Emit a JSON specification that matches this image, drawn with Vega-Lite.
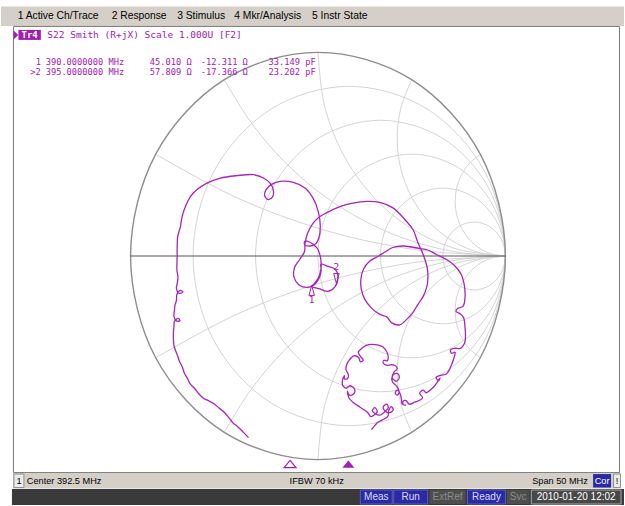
{
"$schema":"https://vega.github.io/schema/vega-lite/v6.json",
"width":625,"height":506,
"autosize":{"type":"fit","contains":"padding"},
"padding":0,
"background":"#ffffff",
"config":{"view":{"stroke":null}},
"datasets":{
"boxes":[
{"x":-1.69149,"x2":1.63298,"y":1.22549,"y2":1.12990,"k":"menubar"},
{"x":-1.625,"x2":1.60904,"y":1.12745,"y2":-1.06373,"k":"frame"},
{"x":-1.62766,"x2":1.61702,"y":-1.06618,"y2":-1.14216,"k":"status"},
{"x":-1.62234,"x2":-1.56915,"y":-1.07108,"y2":-1.13725,"k":"onebox"},
{"x":1.46809,"x2":1.56383,"y":-1.07108,"y2":-1.13725,"k":"cor"},
{"x":1.57713,"x2":1.61436,"y":-1.07108,"y2":-1.13725,"k":"excl"},
{"x":-1.63298,"x2":1.63298,"y":-1.14461,"y2":-1.22304,"k":"dark"},
{"x":0.22606,"x2":0.39628,"y":-1.14951,"y2":-1.21814,"k":"on"},
{"x":0.40426,"x2":0.58511,"y":-1.14951,"y2":-1.21814,"k":"on"},
{"x":0.59574,"x2":0.78723,"y":-1.14951,"y2":-1.21814,"k":"off"},
{"x":0.79787,"x2":1.0,"y":-1.14951,"y2":-1.21814,"k":"on"},
{"x":1.00798,"x2":1.12766,"y":-1.14951,"y2":-1.21814,"k":"off"},
{"x":1.13830,"x2":1.61702,"y":-1.14951,"y2":-1.21814,"k":"date"},
{"x":-1.59840,"x2":-1.47872,"y":1.11029,"y2":1.06127,"k":"tr4"}
],
"rc":[
{"id":"r02","x":1,"y":0},{"id":"r02","x":0.88835,"y":0.41667},{"id":"r02","x":0.58333,"y":0.72169},{"id":"r02","x":0.16667,"y":0.83333},{"id":"r02","x":-0.25,"y":0.72169},{"id":"r02","x":-0.55502,"y":0.41667},{"id":"r02","x":-0.66667,"y":0},{"id":"r02","x":-0.55502,"y":-0.41667},{"id":"r02","x":-0.25,"y":-0.72169},{"id":"r02","x":0.16667,"y":-0.83333},{"id":"r02","x":0.58333,"y":-0.72169},{"id":"r02","x":0.88835,"y":-0.41667},
{"id":"r05","x":1,"y":0},{"id":"r05","x":0.91068,"y":0.33333},{"id":"r05","x":0.66667,"y":0.57735},{"id":"r05","x":0.33333,"y":0.66667},{"id":"r05","x":0,"y":0.57735},{"id":"r05","x":-0.24402,"y":0.33333},{"id":"r05","x":-0.33333,"y":0},{"id":"r05","x":-0.24402,"y":-0.33333},{"id":"r05","x":0,"y":-0.57735},{"id":"r05","x":0.33333,"y":-0.66667},{"id":"r05","x":0.66667,"y":-0.57735},{"id":"r05","x":0.91068,"y":-0.33333},
{"id":"r1","x":1,"y":0},{"id":"r1","x":0.93301,"y":0.25},{"id":"r1","x":0.75,"y":0.43301},{"id":"r1","x":0.5,"y":0.5},{"id":"r1","x":0.25,"y":0.43301},{"id":"r1","x":0.06699,"y":0.25},{"id":"r1","x":0,"y":0},{"id":"r1","x":0.06699,"y":-0.25},{"id":"r1","x":0.25,"y":-0.43301},{"id":"r1","x":0.5,"y":-0.5},{"id":"r1","x":0.75,"y":-0.43301},{"id":"r1","x":0.93301,"y":-0.25},
{"id":"r2","x":1,"y":0},{"id":"r2","x":0.95534,"y":0.16667},{"id":"r2","x":0.83333,"y":0.28868},{"id":"r2","x":0.66667,"y":0.33333},{"id":"r2","x":0.5,"y":0.28868},{"id":"r2","x":0.37799,"y":0.16667},{"id":"r2","x":0.33333,"y":0},{"id":"r2","x":0.37799,"y":-0.16667},{"id":"r2","x":0.5,"y":-0.28868},{"id":"r2","x":0.66667,"y":-0.33333},{"id":"r2","x":0.83333,"y":-0.28868},{"id":"r2","x":0.95534,"y":-0.16667},
{"id":"r5","x":1,"y":0},{"id":"r5","x":0.97767,"y":0.08333},{"id":"r5","x":0.91667,"y":0.14434},{"id":"r5","x":0.83333,"y":0.16667},{"id":"r5","x":0.75,"y":0.14434},{"id":"r5","x":0.689,"y":0.08333},{"id":"r5","x":0.66667,"y":0},{"id":"r5","x":0.689,"y":-0.08333},{"id":"r5","x":0.75,"y":-0.14434},{"id":"r5","x":0.83333,"y":-0.16667},{"id":"r5","x":0.91667,"y":-0.14434},{"id":"r5","x":0.97767,"y":-0.08333}
],
"arcs":[
{"id":"pa","x":1,"y":0},{"id":"pa","x":0.93065,"y":0.00913},{"id":"pa","x":0.86603,"y":0.0359},{"id":"pa","x":0.81053,"y":0.07848},{"id":"pa","x":0.76795,"y":0.13397},{"id":"pa","x":0.74118,"y":0.1986},{"id":"pa","x":0.73205,"y":0.26795},{"id":"pa","x":0.74118,"y":0.3373},{"id":"pa","x":0.76795,"y":0.40192},{"id":"pa","x":0.81053,"y":0.45742},{"id":"pa","x":0.86603,"y":0.5},
{"id":"na","x":1,"y":0},{"id":"na","x":0.93065,"y":-0.00913},{"id":"na","x":0.86603,"y":-0.0359},{"id":"na","x":0.81053,"y":-0.07848},{"id":"na","x":0.76795,"y":-0.13397},{"id":"na","x":0.74118,"y":-0.1986},{"id":"na","x":0.73205,"y":-0.26795},{"id":"na","x":0.74118,"y":-0.3373},{"id":"na","x":0.76795,"y":-0.40192},{"id":"na","x":0.81053,"y":-0.45742},{"id":"na","x":0.86603,"y":-0.5},
{"id":"pb","x":1,"y":0},{"id":"pb","x":0.85057,"y":0.01967},{"id":"pb","x":0.71132,"y":0.07735},{"id":"pb","x":0.59175,"y":0.1691},{"id":"pb","x":0.5,"y":0.28868},{"id":"pb","x":0.44232,"y":0.42792},{"id":"pb","x":0.42265,"y":0.57735},{"id":"pb","x":0.44232,"y":0.72678},{"id":"pb","x":0.5,"y":0.86603},
{"id":"nb","x":1,"y":0},{"id":"nb","x":0.85057,"y":-0.01967},{"id":"nb","x":0.71132,"y":-0.07735},{"id":"nb","x":0.59175,"y":-0.1691},{"id":"nb","x":0.5,"y":-0.28868},{"id":"nb","x":0.44232,"y":-0.42792},{"id":"nb","x":0.42265,"y":-0.57735},{"id":"nb","x":0.44232,"y":-0.72678},{"id":"nb","x":0.5,"y":-0.86603},
{"id":"pc","x":1,"y":0},{"id":"pc","x":0.74118,"y":0.03407},{"id":"pc","x":0.5,"y":0.13397},{"id":"pc","x":0.29289,"y":0.29289},{"id":"pc","x":0.13397,"y":0.5},{"id":"pc","x":0.03407,"y":0.74118},{"id":"pc","x":0,"y":1},
{"id":"nc","x":1,"y":0},{"id":"nc","x":0.74118,"y":-0.03407},{"id":"nc","x":0.5,"y":-0.13397},{"id":"nc","x":0.29289,"y":-0.29289},{"id":"nc","x":0.13397,"y":-0.5},{"id":"nc","x":0.03407,"y":-0.74118},{"id":"nc","x":0,"y":-1},
{"id":"pd","x":1,"y":0},{"id":"pd","x":0.77392,"y":0.01482},{"id":"pd","x":0.55171,"y":0.05901},{"id":"pd","x":0.33717,"y":0.13184},{"id":"pd","x":0.13397,"y":0.23205},{"id":"pd","x":-0.05441,"y":0.35792},{"id":"pd","x":-0.22474,"y":0.50731},{"id":"pd","x":-0.37412,"y":0.67765},{"id":"pd","x":-0.5,"y":0.86603},
{"id":"nd","x":1,"y":0},{"id":"nd","x":0.77392,"y":-0.01482},{"id":"nd","x":0.55171,"y":-0.05901},{"id":"nd","x":0.33717,"y":-0.13184},{"id":"nd","x":0.13397,"y":-0.23205},{"id":"nd","x":-0.05441,"y":-0.35792},{"id":"nd","x":-0.22474,"y":-0.50731},{"id":"nd","x":-0.37412,"y":-0.67765},{"id":"nd","x":-0.5,"y":-0.86603},
{"id":"pe","x":1,"y":0},{"id":"pe","x":0.51287,"y":0.03193},{"id":"pe","x":0.03407,"y":0.12717},{"id":"pe","x":-0.42819,"y":0.28408},{"id":"pe","x":-0.86603,"y":0.5},
{"id":"ne","x":1,"y":0},{"id":"ne","x":0.51287,"y":-0.03193},{"id":"ne","x":0.03407,"y":-0.12717},{"id":"ne","x":-0.42819,"y":-0.28408},{"id":"ne","x":-0.86603,"y":-0.5}
],
"outer":[
{"x":1,"y":0},{"x":0.86603,"y":0.5},{"x":0.5,"y":0.86603},{"x":0,"y":1},{"x":-0.5,"y":0.86603},{"x":-0.86603,"y":0.5},{"x":-1,"y":0},{"x":-0.86603,"y":-0.5},{"x":-0.5,"y":-0.86603},{"x":0,"y":-1},{"x":0.5,"y":-0.86603},{"x":0.86603,"y":-0.5}
],
"axisline":[{"x":-1,"y":0},{"x":1,"y":0}],
"trace":[
{"x":-0.3707,"y":-0.8922},{"x":-0.3989,"y":-0.8652},{"x":-0.4309,"y":-0.8358},{"x":-0.4521,"y":-0.8211},{"x":-0.4734,"y":-0.7966},{"x":-0.5,"y":-0.7672},{"x":-0.5266,"y":-0.7475},{"x":-0.5585,"y":-0.723},{"x":-0.5904,"y":-0.7083},{"x":-0.6117,"y":-0.6985},
{"x":-0.6383,"y":-0.674},{"x":-0.6596,"y":-0.6495},{"x":-0.6809,"y":-0.6299},{"x":-0.6968,"y":-0.6005},{"x":-0.7128,"y":-0.576},{"x":-0.7234,"y":-0.5466},{"x":-0.7394,"y":-0.5172},{"x":-0.75,"y":-0.4877},{"x":-0.7606,"y":-0.4632},{"x":-0.7686,"y":-0.4387},
{"x":-0.7713,"y":-0.4093},{"x":-0.7713,"y":-0.375},{"x":-0.7686,"y":-0.3456},{"x":-0.766,"y":-0.3211},{"x":-0.7447,"y":-0.3064},{"x":-0.7367,"y":-0.3186},{"x":-0.7553,"y":-0.3186},{"x":-0.7686,"y":-0.2966},{"x":-0.766,"y":-0.2672},{"x":-0.7633,"y":-0.2426},
{"x":-0.7553,"y":-0.2181},{"x":-0.7527,"y":-0.1887},{"x":-0.734,"y":-0.1691},{"x":-0.7207,"y":-0.1765},{"x":-0.7394,"y":-0.1838},{"x":-0.7553,"y":-0.1593},{"x":-0.75,"y":-0.1299},{"x":-0.7473,"y":-0.1005},{"x":-0.7527,"y":-0.0711},{"x":-0.7527,"y":-0.0368},
{"x":-0.7516,"y":-0.0025},{"x":-0.7516,"y":0.0319},{"x":-0.7484,"y":0.0956},{"x":-0.734,"y":0.1446},{"x":-0.725,"y":0.1936},{"x":-0.7074,"y":0.2426},{"x":-0.6809,"y":0.2917},{"x":-0.6452,"y":0.326},{"x":-0.592,"y":0.3578},{"x":-0.5213,"y":0.3824},
{"x":-0.4324,"y":0.3946},{"x":-0.3441,"y":0.3995},{"x":-0.291,"y":0.3833},{"x":-0.2553,"y":0.3578},{"x":-0.2378,"y":0.3211},{"x":-0.242,"y":0.2917},{"x":-0.266,"y":0.277},{"x":-0.2846,"y":0.2966},{"x":-0.2766,"y":0.326},{"x":-0.25,"y":0.3505},
{"x":-0.2021,"y":0.3667},{"x":-0.1314,"y":0.3618},{"x":-0.0691,"y":0.3343},{"x":-0.025,"y":0.2819},{"x":0.0016,"y":0.2181},{"x":0.0122,"y":0.1495},{"x":0.0053,"y":0.0907},{"x":-0.0106,"y":0.0613},{"x":-0.0426,"y":0.049},{"x":-0.0718,"y":0.0564},
{"x":-0.0691,"y":0.0735},{"x":-0.0452,"y":0.0686},{"x":-0.0213,"y":0.0539},{"x":0,"y":0.0319},{"x":0.0133,"y":-0.0074},{"x":0.017,"y":-0.0564},{"x":0.0027,"y":-0.1054},{"x":-0.0213,"y":-0.1373},{"x":-0.0335,"y":-0.1495},{"x":0.0106,"y":-0.1618},
{"x":0.0532,"y":-0.174},{"x":0.0904,"y":-0.152},{"x":0.1064,"y":-0.1005},{"x":0.0931,"y":-0.0662},{"x":0.0532,"y":-0.0515},{"x":0.016,"y":-0.0392},{"x":0.017,"y":-0.0711},{"x":0.0053,"y":-0.1103},{"x":-0.0213,"y":-0.1422},{"x":-0.0585,"y":-0.1544},
{"x":-0.1011,"y":-0.1422},{"x":-0.1277,"y":-0.1054},{"x":-0.125,"y":-0.0564},{"x":-0.0957,"y":-0.0147},{"x":-0.0718,"y":0.0221},{"x":-0.0691,"y":0.0613},{"x":-0.0559,"y":0.1103},{"x":-0.025,"y":0.1627},{"x":0.0106,"y":0.1936},{"x":0.0479,"y":0.2132},
{"x":0.117,"y":0.2426},{"x":0.1862,"y":0.2598},{"x":0.2606,"y":0.2686},{"x":0.3298,"y":0.2637},{"x":0.4005,"y":0.2363},{"x":0.4718,"y":0.1706},{"x":0.5069,"y":0.1299},{"x":0.5335,"y":0.0647},{"x":0.5612,"y":0.0074},{"x":0.5824,"y":-0.0564},
{"x":0.5867,"y":-0.1054},{"x":0.5798,"y":-0.1544},{"x":0.5612,"y":-0.1985},{"x":0.5335,"y":-0.2377},{"x":0.5053,"y":-0.2794},{"x":0.4734,"y":-0.3113},{"x":0.4362,"y":-0.3382},{"x":0.3936,"y":-0.3284},{"x":0.367,"y":-0.299},{"x":0.3298,"y":-0.2868},
{"x":0.2872,"y":-0.2574},{"x":0.25,"y":-0.2132},{"x":0.2314,"y":-0.1642},{"x":0.2287,"y":-0.1152},{"x":0.242,"y":-0.0662},{"x":0.2766,"y":-0.0245},{"x":0.3191,"y":-0.0025},{"x":0.3617,"y":0.0221},{"x":0.3989,"y":0.0417},{"x":0.4521,"y":0.049},
{"x":0.5,"y":0.0441},{"x":0.5426,"y":0.0368},{"x":0.5851,"y":0.0294},{"x":0.633,"y":0.0074},{"x":0.6862,"y":-0.0172},{"x":0.7287,"y":-0.0466},{"x":0.7644,"y":-0.0907},{"x":0.7819,"y":-0.1495},{"x":0.7846,"y":-0.2034},{"x":0.7739,"y":-0.2475},
{"x":0.7447,"y":-0.2574},{"x":0.7367,"y":-0.2721},{"x":0.7553,"y":-0.2819},{"x":0.7766,"y":-0.3015},{"x":0.7846,"y":-0.3505},{"x":0.7872,"y":-0.3946},{"x":0.7819,"y":-0.4289},{"x":0.7606,"y":-0.4534},{"x":0.7287,"y":-0.4534},{"x":0.7074,"y":-0.4608},
{"x":0.7128,"y":-0.4779},{"x":0.7314,"y":-0.473},{"x":0.7234,"y":-0.5074},{"x":0.7048,"y":-0.5515},{"x":0.6835,"y":-0.5809},{"x":0.6543,"y":-0.5858},{"x":0.6303,"y":-0.5956},{"x":0.6436,"y":-0.6127},{"x":0.6516,"y":-0.598},{"x":0.625,"y":-0.6348},
{"x":0.6011,"y":-0.6569},{"x":0.5771,"y":-0.6716},{"x":0.5612,"y":-0.6593},{"x":0.5426,"y":-0.674},{"x":0.5585,"y":-0.6961},{"x":0.5479,"y":-0.7059},{"x":0.516,"y":-0.7181},{"x":0.4867,"y":-0.7279},{"x":0.4707,"y":-0.7108},{"x":0.4548,"y":-0.7132},
{"x":0.4548,"y":-0.7304},{"x":0.4681,"y":-0.7328},{"x":0.4495,"y":-0.7279},{"x":0.4452,"y":-0.7034},{"x":0.4388,"y":-0.6765},{"x":0.4229,"y":-0.6593},{"x":0.4122,"y":-0.6716},{"x":0.4229,"y":-0.6838},{"x":0.4335,"y":-0.6691},{"x":0.4202,"y":-0.6397},
{"x":0.3989,"y":-0.6201},{"x":0.3936,"y":-0.6029},{"x":0.4043,"y":-0.5809},{"x":0.4255,"y":-0.5784},{"x":0.4335,"y":-0.598},{"x":0.4176,"y":-0.6152},{"x":0.3963,"y":-0.598},{"x":0.4069,"y":-0.5686},{"x":0.4229,"y":-0.5539},{"x":0.4096,"y":-0.5368},
{"x":0.3883,"y":-0.5343},{"x":0.3697,"y":-0.5368},{"x":0.3484,"y":-0.527},{"x":0.3511,"y":-0.5123},{"x":0.3697,"y":-0.5147},{"x":0.375,"y":-0.4975},{"x":0.367,"y":-0.4706},{"x":0.3457,"y":-0.4461},{"x":0.3165,"y":-0.4363},{"x":0.2872,"y":-0.4338},
{"x":0.258,"y":-0.4387},{"x":0.234,"y":-0.4534},{"x":0.2154,"y":-0.473},{"x":0.2287,"y":-0.4951},{"x":0.242,"y":-0.5123},{"x":0.2261,"y":-0.5196},{"x":0.2181,"y":-0.5},{"x":0.1915,"y":-0.4902},{"x":0.1676,"y":-0.5098},{"x":0.1543,"y":-0.5319},
{"x":0.1489,"y":-0.5564},{"x":0.1622,"y":-0.5833},{"x":0.1569,"y":-0.6029},{"x":0.141,"y":-0.6029},{"x":0.141,"y":-0.5882},{"x":0.1303,"y":-0.6127},{"x":0.133,"y":-0.6373},{"x":0.1516,"y":-0.6495},{"x":0.1702,"y":-0.6373},{"x":0.1941,"y":-0.652},
{"x":0.1915,"y":-0.6765},{"x":0.1676,"y":-0.6838},{"x":0.1569,"y":-0.6642},{"x":0.1649,"y":-0.6961},{"x":0.1878,"y":-0.7196},{"x":0.2144,"y":-0.7363},{"x":0.241,"y":-0.7525},{"x":0.266,"y":-0.7696},{"x":0.2819,"y":-0.7892},{"x":0.2979,"y":-0.7819},
{"x":0.3165,"y":-0.7647},{"x":0.3032,"y":-0.7451},{"x":0.2899,"y":-0.7598},{"x":0.3059,"y":-0.7745},{"x":0.3298,"y":-0.7819},{"x":0.3537,"y":-0.7672},{"x":0.375,"y":-0.7451},{"x":0.367,"y":-0.7279},{"x":0.3484,"y":-0.7402},{"x":0.3564,"y":-0.7598},
{"x":0.383,"y":-0.7696},{"x":0.4016,"y":-0.7549},{"x":0.391,"y":-0.7402},{"x":0.3777,"y":-0.7574},{"x":0.3723,"y":-0.7892},{"x":0.3404,"y":-0.8064},{"x":0.3165,"y":-0.8186},{"x":0.3005,"y":-0.8358},{"x":0.2856,"y":-0.8529}
],
"menu":[
{"x":-1.60266,"y":1.18039,"t":"1 Active Ch/Trace"},
{"x":-1.10106,"y":1.18039,"t":"2 Response"},
{"x":-0.7516,"y":1.18039,"t":"3 Stimulus"},
{"x":-0.44681,"y":1.18039,"t":"4 Mkr/Analysis"},
{"x":-0.03191,"y":1.18039,"t":"5 Instr State"}
],
"mk":[
{"x":-1.49202,"y":0.9549,"t":"1"},
{"x":-1.24362,"y":0.9549,"t":"390.0000000 MHz"},
{"x":-0.78564,"y":0.9549,"t":"45.010 Ω"},
{"x":-0.5,"y":0.9549,"t":"-12.311 Ω"},
{"x":-0.1383,"y":0.9549,"t":"33.149 pF"},
{"x":-1.50798,"y":0.90588,"t":">2"},
{"x":-1.24362,"y":0.90588,"t":"395.0000000 MHz"},
{"x":-0.78564,"y":0.90588,"t":"57.809 Ω"},
{"x":-0.5,"y":0.90588,"t":"-17.366 Ω"},
{"x":-0.1383,"y":0.90588,"t":"23.202 pF"}
],
"status":[
{"x":-1.59574,"y":-1.10294,"t":"1","s":"dark"},
{"x":-1.35479,"y":-1.10294,"t":"Center 392.5 MHz","s":"dark"},
{"x":-0.00691,"y":-1.10294,"t":"IFBW 70 kHz","s":"dark"},
{"x":1.29149,"y":-1.10294,"t":"Span 50 MHz","s":"dark"},
{"x":1.51596,"y":-1.10294,"t":"Cor","s":"white"},
{"x":1.59574,"y":-1.10294,"t":"!","s":"dark"}
],
"darktext":[
{"x":0.31117,"y":-1.18382,"t":"Meas","s":"on"},
{"x":0.49468,"y":-1.18382,"t":"Run","s":"on"},
{"x":0.69149,"y":-1.18382,"t":"ExtRef","s":"off"},
{"x":0.89894,"y":-1.18382,"t":"Ready","s":"on"},
{"x":1.06782,"y":-1.18382,"t":"Svc","s":"off"},
{"x":1.37766,"y":-1.18382,"t":"2010-01-20 12:02","s":"white"}
]
},
"encoding":{
"x":{"field":"x","type":"quantitative","scale":{"domain":[-1.69149,1.63298],"nice":false,"zero":false},"axis":null},
"y":{"field":"y","type":"quantitative","scale":{"domain":[-1.22304,1.25735],"nice":false,"zero":false},"axis":null}
},
"layer":[
{"data":{"name":"boxes"},"mark":{"type":"rect","strokeWidth":1},
 "encoding":{"x2":{"field":"x2"},"y2":{"field":"y2"},
 "fill":{"field":"k","type":"nominal","legend":null,"scale":{"domain":["menubar","frame","status","onebox","cor","excl","dark","on","off","date","tr4"],"range":["#d4d0c8","#ffffff","#d4d0c8","#ececec","#2a2aa6","#ececec","#3a3a3a","#2a2aa6","#4e4e4e","#484848","#a020b0"]}},
 "stroke":{"field":"k","type":"nominal","legend":null,"scale":{"domain":["menubar","frame","status","onebox","cor","excl","dark","on","off","date","tr4"],"range":["transparent","#7a7a7a","transparent","#909090","transparent","#909090","transparent","#5a5ac0","transparent","#a8a8a8","transparent"]}}}},
{"data":{"name":"rc"},"mark":{"type":"line","interpolate":"cardinal-closed","color":"#d4d4d4","strokeWidth":1},
 "encoding":{"detail":{"field":"id","type":"nominal"},"order":{"value":null}}},
{"data":{"name":"arcs"},"mark":{"type":"line","interpolate":"cardinal","color":"#d4d4d4","strokeWidth":1},
 "encoding":{"detail":{"field":"id","type":"nominal"},"order":{"value":null}}},
{"data":{"name":"outer"},"mark":{"type":"line","interpolate":"cardinal-closed","color":"#8c8c8c","strokeWidth":1.4},
 "encoding":{"order":{"value":null}}},
{"data":{"name":"axisline"},"mark":{"type":"line","color":"#555555","strokeWidth":1.2},
 "encoding":{"order":{"value":null}}},
{"data":{"name":"trace"},"mark":{"type":"line","interpolate":"catmull-rom","color":"#a526b8","strokeWidth":1.3},
 "encoding":{"order":{"value":null}}},
{"data":{"values":[{"x":-0.03351,"y":-0.16912}]},"mark":{"type":"point","shape":"M0,-1L0.55,1L-0.55,1Z","size":100,"filled":false,"color":"#a020b0","strokeWidth":1,"opacity":1}},
{"data":{"values":[{"x":0.0984,"y":-0.11029}]},"mark":{"type":"point","shape":"M-0.55,-1L0.55,-1L0,1Z","size":100,"filled":false,"color":"#a020b0","strokeWidth":1,"opacity":1}},
{"data":{"values":[{"x":-0.1489,"y":-1.0221}]},"mark":{"type":"point","shape":"M0,-0.6L1,0.6L-1,0.6Z","size":144,"filled":false,"color":"#a020b0","strokeWidth":1.2,"opacity":1}},
{"data":{"values":[{"x":0.1622,"y":-1.0221}]},"mark":{"type":"point","shape":"M0,-0.6L1,0.6L-1,0.6Z","size":144,"filled":true,"color":"#a020b0","opacity":1}},
{"data":{"values":[{"x":-1.6117,"y":1.08578}]},"mark":{"type":"point","shape":"M-0.5,-1L0.5,0L-0.5,1Z","size":81,"filled":true,"color":"#a020b0","opacity":1}},
{"data":{"values":[{"x":-1.53856,"y":1.08578,"t":"Tr4"}]},"mark":{"type":"text","font":"DejaVu Sans Mono","fontSize":9,"fontWeight":"bold","color":"#ffffff","align":"center","baseline":"middle"},"encoding":{"text":{"field":"t"}}},
{"data":{"values":[{"x":-1.44415,"y":1.08578,"t":"S22 Smith (R+jX) Scale 1.000U [F2]"}]},"mark":{"type":"text","font":"DejaVu Sans Mono","fontSize":9.5,"color":"#a020b0","align":"left","baseline":"middle"},"encoding":{"text":{"field":"t"}}},
{"data":{"name":"mk"},"mark":{"type":"text","font":"DejaVu Sans Mono","fontSize":8.7,"color":"#a020b0","align":"center","baseline":"middle"},"encoding":{"text":{"field":"t"}}},
{"data":{"values":[{"x":-0.03457,"y":-0.21569,"t":"1"},{"x":0.0984,"y":-0.05637,"t":"2"}]},"mark":{"type":"text","font":"DejaVu Sans Mono","fontSize":9.5,"color":"#a020b0","align":"center","baseline":"middle"},"encoding":{"text":{"field":"t"}}},
{"data":{"name":"menu"},"mark":{"type":"text","font":"Liberation Sans","fontSize":10.3,"color":"#000000","align":"left","baseline":"middle"},"encoding":{"text":{"field":"t"}}},
{"data":{"name":"status"},"mark":{"type":"text","font":"Liberation Sans","fontSize":9.2,"align":"center","baseline":"middle"},
 "encoding":{"text":{"field":"t"},"color":{"field":"s","type":"nominal","legend":null,"scale":{"domain":["dark","white","on","off"],"range":["#000000","#ffffff","#dcdcf4","#8c8c8c"]}}}},
{"data":{"name":"darktext"},"mark":{"type":"text","font":"Liberation Sans","fontSize":10,"align":"center","baseline":"middle"},
 "encoding":{"text":{"field":"t"},"color":{"field":"s","type":"nominal","legend":null,"scale":{"domain":["dark","white","on","off"],"range":["#000000","#ffffff","#dcdcf4","#8c8c8c"]}}}}
]
}
